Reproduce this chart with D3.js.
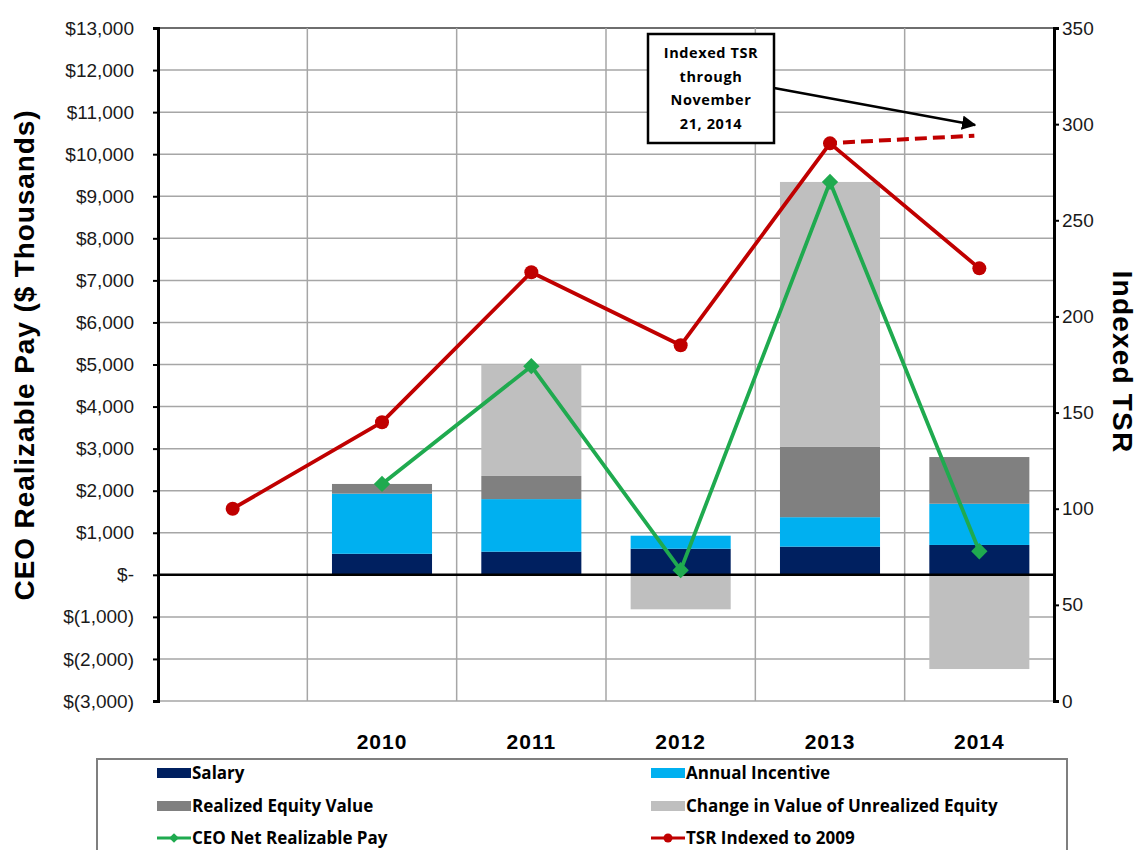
<!DOCTYPE html>
<html>
<head>
<meta charset="utf-8">
<script src="https://cdn.jsdelivr.net/npm/d3@7"></script>
<style>
  body { margin: 0; background: #fff; }
  svg { display: block; }
</style>
</head>
<body>
<div id="chart"></div>
<script>
// ─── Data ($ thousands) ────────────────────────────────────────────────
const years      = [2009, 2010, 2011, 2012, 2013, 2014];
const yearLabels = ['', '2010', '2011', '2012', '2013', '2014'];

const salary     = [null, 500, 550, 620, 670, 710];
const incentive  = [null, 1430, 1250, 310, 700, 980];
const realized   = [null, 230, 550, 0, 1670, 1110];
const unrealized = [null, 0, 2650, -820, 6300, -2240];

const netPay     = [null, 2160, 4960, 110, 9340, 560];
const tsr        = [100, 145, 223, 185, 290, 225];
const tsrNov     = [null, null, null, null, 290, 294];

const leftTicks  = [13000, 12000, 11000, 10000, 9000, 8000, 7000, 6000, 5000,
                    4000, 3000, 2000, 1000, 0, -1000, -2000, -3000];
const rightTicks = [0, 50, 100, 150, 200, 250, 300, 350];

const seriesKeys   = ['salary', 'incentive', 'realized', 'unrealized'];
const seriesColors = { salary: '#002060', incentive: '#00b0f0', realized: '#808080', unrealized: '#bfbfbf' };
const GREEN = '#1faa4f';
const RED = '#c00000';

const narrow = "'Liberation Sans Narrow', 'Open Sans', sans-serif";
const arial = "'Liberation Sans', Arial, sans-serif";

// ─── Layout ────────────────────────────────────────────────────────────
const W = 1140, H = 850;
const L = 158, R = 1054, T = 28, B = 701;

const svg = d3.select('#chart').append('svg')
  .attr('width', W).attr('height', H);

const xCat = d3.scaleBand().domain(years).range([L, R]);
const x = d3.scaleBand().domain(years).range([L, R])
  .paddingInner(0.33).paddingOuter(0.165);
const cx = d => xCat(d) + xCat.bandwidth() / 2;

const yL = d3.scaleLinear().domain([-3000, 13000]).range([B, T]);
const yR = d3.scaleLinear().domain([0, 350]).range([B, T]);

// Gridlines
svg.append('g')
  .selectAll('line.h')
  .data(leftTicks)
  .join('line')
  .attr('x1', L).attr('x2', R)
  .attr('y1', d => yL(d)).attr('y2', d => yL(d))
  .attr('stroke', d => d === 13000 ? '#6e6e6e' : '#a6a6a6')
  .attr('stroke-width', d => d === 13000 ? 2.2 : 1.5);

svg.append('g')
  .selectAll('line.v')
  .data(years.slice(1))
  .join('line')
  .attr('x1', d => xCat(d)).attr('x2', d => xCat(d))
  .attr('y1', T).attr('y2', B)
  .attr('stroke', '#a6a6a6').attr('stroke-width', 1.5);

// Stacked bars (diverging so negatives hang below zero)
const rows = years.map((yr, i) => ({
  year: yr,
  salary: salary[i] || 0,
  incentive: incentive[i] || 0,
  realized: realized[i] || 0,
  unrealized: unrealized[i] || 0
}));

const stacked = d3.stack().keys(seriesKeys).offset(d3.stackOffsetDiverging)(rows);

svg.append('g')
  .selectAll('g')
  .data(stacked)
  .join('g')
  .attr('fill', s => seriesColors[s.key])
  .selectAll('rect')
  .data(s => s.filter(d => d[1] !== d[0]))
  .join('rect')
  .attr('x', d => x(d.data.year))
  .attr('width', x.bandwidth())
  .attr('y', d => yL(Math.max(d[0], d[1])))
  .attr('height', d => Math.abs(yL(d[0]) - yL(d[1])));

// Zero line
svg.append('line')
  .attr('x1', L).attr('x2', R)
  .attr('y1', yL(0)).attr('y2', yL(0))
  .attr('stroke', '#000').attr('stroke-width', 2.5);

// Axes
const leftAxis = d3.axisLeft(yL)
  .tickValues(leftTicks)
  .tickSize(5)
  .tickPadding(19)
  .tickFormat(v => {
    if (v === 0) return '$-';
    const s = d3.format(',')(Math.abs(v));
    return v < 0 ? `$(${s})` : `$${s}`;
  });

svg.append('g')
  .attr('transform', `translate(${L},0)`)
  .call(leftAxis)
  .call(g => {
    g.select('.domain').attr('stroke', '#000').attr('stroke-width', 3);
    g.selectAll('.tick line').attr('stroke', '#000').attr('stroke-width', 2);
    g.selectAll('text').attr('font-family', arial).attr('font-size', 19).attr('fill', '#1a1a1a');
  });

const rightAxis = d3.axisRight(yR)
  .tickValues(rightTicks)
  .tickSize(5)
  .tickPadding(3);

svg.append('g')
  .attr('transform', `translate(${R},0)`)
  .call(rightAxis)
  .call(g => {
    g.select('.domain').attr('stroke', '#000').attr('stroke-width', 3);
    g.selectAll('.tick line').attr('stroke', '#000').attr('stroke-width', 2);
    g.selectAll('text').attr('font-family', arial).attr('font-size', 19).attr('fill', '#1a1a1a');
  });

// Category labels
svg.append('g')
  .selectAll('text')
  .data(years)
  .join('text')
  .attr('x', d => cx(d))
  .attr('y', 749)
  .attr('text-anchor', 'middle')
  .attr('font-family', arial).attr('font-weight', 'bold')
  .attr('font-size', 21).attr('letter-spacing', 1).attr('fill', '#000')
  .text((d, i) => yearLabels[i]);

// Axis titles
svg.append('text')
  .attr('transform', `translate(34, 355) rotate(-90)`)
  .attr('text-anchor', 'middle')
  .attr('font-family', arial).attr('font-weight', 'bold')
  .attr('font-size', 28).attr('letter-spacing', 0.9).attr('fill', '#000')
  .text('CEO Realizable Pay ($ Thousands)');

svg.append('text')
  .attr('transform', `translate(1113, 362) rotate(90)`)
  .attr('text-anchor', 'middle')
  .attr('font-family', arial).attr('font-weight', 'bold')
  .attr('font-size', 28).attr('letter-spacing', 1.2).attr('fill', '#000')
  .text('Indexed TSR');

// Lines
const netPts = years.map((yr, i) => ({ year: yr, v: netPay[i] })).filter(d => d.v != null);
const tsrPts = years.map((yr, i) => ({ year: yr, v: tsr[i] })).filter(d => d.v != null);
const novPts = years.map((yr, i) => ({ year: yr, v: tsrNov[i] })).filter(d => d.v != null);

svg.append('path')
  .datum(novPts)
  .attr('fill', 'none').attr('stroke', RED).attr('stroke-width', 4)
  .attr('stroke-dasharray', '12,6')
  .attr('d', d3.line().x(d => cx(d.year) - 5).y(d => yR(d.v)));

svg.append('path')
  .datum(tsrPts)
  .attr('fill', 'none').attr('stroke', RED).attr('stroke-width', 3.8)
  .attr('stroke-linejoin', 'round')
  .attr('d', d3.line().x(d => cx(d.year)).y(d => yR(d.v)));

svg.append('g')
  .selectAll('circle')
  .data(tsrPts)
  .join('circle')
  .attr('cx', d => cx(d.year)).attr('cy', d => yR(d.v))
  .attr('r', 7).attr('fill', RED);

svg.append('path')
  .datum(netPts)
  .attr('fill', 'none').attr('stroke', GREEN).attr('stroke-width', 3.8)
  .attr('stroke-linejoin', 'round')
  .attr('d', d3.line().x(d => cx(d.year)).y(d => yL(d.v)));

const diamond = d3.symbol().type(d3.symbolDiamond2).size(170);
svg.append('g')
  .selectAll('path')
  .data(netPts)
  .join('path')
  .attr('transform', d => `translate(${cx(d.year)},${yL(d.v)})`)
  .attr('d', diamond)
  .attr('fill', GREEN);

// Annotation box + arrow
const box = svg.append('g');
box.append('rect')
  .attr('x', 648).attr('y', 34).attr('width', 126).attr('height', 109)
  .attr('fill', '#fff').attr('stroke', '#000').attr('stroke-width', 2.5);

['Indexed TSR', 'through', 'November', '21, 2014'].forEach((t, i) => {
  box.append('text')
    .attr('x', 711).attr('y', 58 + i * 23.5)
    .attr('text-anchor', 'middle')
    .attr('font-family', narrow).attr('font-weight', 'bold')
    .attr('font-size', 14.5).attr('letter-spacing', 0.6).attr('fill', '#000')
    .text(t);
});

svg.append('defs').append('marker')
  .attr('id', 'arrow')
  .attr('viewBox', '0 0 10 10').attr('refX', 9).attr('refY', 5)
  .attr('markerWidth', 6).attr('markerHeight', 6)
  .attr('markerUnits', 'strokeWidth')
  .attr('orient', 'auto')
  .append('path').attr('d', 'M0,0 L10,5 L0,10 z').attr('fill', '#000');

svg.append('line')
  .attr('x1', 774).attr('y1', 88).attr('x2', 975).attr('y2', 125)
  .attr('stroke', '#000').attr('stroke-width', 2.4)
  .attr('marker-end', 'url(#arrow)');

// ─── Legend ────────────────────────────────────────────────────────────
const legend = svg.append('g');
legend.append('rect')
  .attr('x', 97).attr('y', 759).attr('width', 970).attr('height', 100)
  .attr('fill', '#fff').attr('stroke', '#7f7f7f').attr('stroke-width', 2);

const legendItems = [
  { label: 'Salary', type: 'bar', color: seriesColors.salary, col: 0, row: 0 },
  { label: 'Annual Incentive', type: 'bar', color: seriesColors.incentive, col: 1, row: 0 },
  { label: 'Realized  Equity Value', type: 'bar', color: seriesColors.realized, col: 0, row: 1 },
  { label: 'Change in Value of Unrealized Equity', type: 'bar', color: seriesColors.unrealized, col: 1, row: 1 },
  { label: 'CEO Net Realizable Pay', type: 'diamond', color: GREEN, col: 0, row: 2 },
  { label: 'TSR Indexed to 2009', type: 'circle', color: RED, col: 1, row: 2 }
];
const colX = [157, 651];
const rowY = [773, 806, 838];

legendItems.forEach(it => {
  const x0 = colX[it.col], y0 = rowY[it.row];
  const g = legend.append('g');
  if (it.type === 'bar') {
    g.append('rect').attr('x', x0).attr('y', y0 - 5).attr('width', 34).attr('height', 10).attr('fill', it.color);
  } else {
    g.append('line').attr('x1', x0).attr('x2', x0 + 34).attr('y1', y0).attr('y2', y0)
      .attr('stroke', it.color).attr('stroke-width', 3);
    if (it.type === 'diamond') {
      g.append('path').attr('transform', `translate(${x0 + 17},${y0})`)
        .attr('d', d3.symbol().type(d3.symbolDiamond2).size(60)).attr('fill', it.color);
    } else {
      g.append('circle').attr('cx', x0 + 17).attr('cy', y0).attr('r', 4.5).attr('fill', it.color);
    }
  }
  g.append('text')
    .attr('x', x0 + 35).attr('y', y0 + 6)
    .attr('font-family', narrow).attr('font-weight', 'bold')
    .attr('font-size', 17).attr('fill', '#000')
    .text(it.label);
});
</script>
</body>
</html>
